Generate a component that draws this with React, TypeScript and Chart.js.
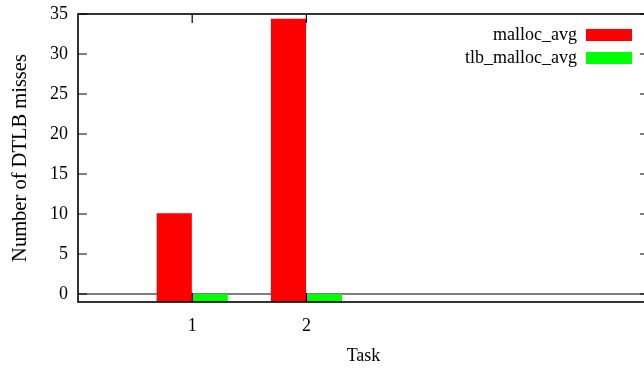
import React, { useEffect, useRef } from 'react';
import { Chart, registerables } from 'chart.js';

Chart.register(...registerables);

const TASKS = [1, 2];
const MALLOC_AVG = [10.1, 34.4];
const TLB_MALLOC_AVG = [0, 0];
const SERIES_NAMES = ['malloc_avg', 'tlb_malloc_avg'];
const SERIES_COLORS = ['#ff0000', '#00ff00'];
const Y_TICKS = [0, 5, 10, 15, 20, 25, 30, 35];
const X_TICKS = [1, 2];
const X_MIN = 0;
const X_MAX = 5;
const Y_MIN = -1;
const Y_MAX = 35;
const BAR_BASE = -1;
const Y_TITLE = 'Number of DTLB misses';
const X_TITLE = 'Task';

const FONT = '"Liberation Serif", "Times New Roman", serif';

const gnuplotFrame = {
  id: 'gnuplotFrame',
  beforeDatasetsDraw(chart: any) {
    const { ctx, chartArea: a, scales } = chart;
    const y0 = scales.y.getPixelForValue(0);
    ctx.save();
    ctx.strokeStyle = '#000';
    ctx.lineWidth = 1.2;
    ctx.beginPath();
    ctx.moveTo(a.left, y0);
    ctx.lineTo(a.right, y0);
    ctx.stroke();
    ctx.restore();
  },
  afterDatasetsDraw(chart: any) {
    const { ctx, chartArea: a, scales } = chart;
    const tick = 9;
    ctx.save();
    ctx.strokeStyle = '#000';
    ctx.lineWidth = 1.2;
    ctx.beginPath();
    Y_TICKS.forEach((v) => {
      const y = scales.y.getPixelForValue(v);
      ctx.moveTo(a.left, y);
      ctx.lineTo(a.left + tick, y);
      ctx.moveTo(a.right, y);
      ctx.lineTo(a.right - tick, y);
    });
    X_TICKS.forEach((v) => {
      const x = scales.x.getPixelForValue(v);
      ctx.moveTo(x, a.bottom);
      ctx.lineTo(x, a.bottom - tick);
      ctx.moveTo(x, a.top);
      ctx.lineTo(x, a.top + tick);
    });
    ctx.stroke();
    ctx.lineWidth = 1.6;
    ctx.strokeRect(a.left, a.top, a.right - a.left, a.bottom - a.top);

    // legend (key) top-right, sample to the right of the text
    ctx.font = '18px ' + FONT;
    ctx.textAlign = 'right';
    ctx.textBaseline = 'middle';
    chart.data.datasets.forEach((ds: any, i: number) => {
      const cy = a.top + 21 + i * 23;
      ctx.fillStyle = '#000';
      ctx.fillText(ds.label, a.right - 72, cy);
      ctx.fillStyle = ds.backgroundColor;
      ctx.fillRect(a.right - 63, cy - 6, 46, 12);
    });
    ctx.restore();
  },
};

export default function App() {
  const canvasRef = useRef<HTMLCanvasElement>(null);

  useEffect(() => {
    if (!canvasRef.current) return;
    const seriesValues = [MALLOC_AVG, TLB_MALLOC_AVG];
    const chart = new Chart(canvasRef.current, {
      type: 'bar',
      data: {
        datasets: SERIES_NAMES.map((name, i) => ({
          label: name,
          data: TASKS.map((t, j) => ({ x: t, y: seriesValues[i][j] })),
          backgroundColor: SERIES_COLORS[i],
          borderWidth: 0,
          base: BAR_BASE,
          categoryPercentage: 0.63,
          barPercentage: 0.98,
        })),
      },
      options: {
        animation: false,
        responsive: true,
        maintainAspectRatio: false,
        layout: { padding: { left: 0, top: 14, right: 3, bottom: 0 } },
        plugins: {
          legend: { display: false },
          tooltip: { enabled: false },
        },
        scales: {
          x: {
            type: 'linear',
            min: X_MIN,
            max: X_MAX,
            offset: false,
            grid: { display: false, drawTicks: false, offset: false },
            border: { display: false },
            afterBuildTicks: (s: any) => {
              s.ticks = X_TICKS.map((v) => ({ value: v }));
            },
            afterFit: (s: any) => {
              s.height = 69;
              s.paddingLeft = 0;
              s.paddingRight = 0;
            },
            ticks: {
              color: '#000',
              padding: 13,
              maxRotation: 0,
              font: { family: FONT, size: 18 },
            },
            title: {
              display: true,
              text: X_TITLE,
              color: '#000',
              font: { family: FONT, size: 18 },
              padding: { top: 0, bottom: 4 },
            },
          },
          y: {
            type: 'linear',
            min: Y_MIN,
            max: Y_MAX,
            grid: { display: false, drawTicks: false },
            border: { display: false },
            afterBuildTicks: (s: any) => {
              s.ticks = Y_TICKS.map((v) => ({ value: v }));
            },
            afterFit: (s: any) => {
              s.width = 78;
              s.paddingTop = 0;
              s.paddingBottom = 0;
            },
            ticks: {
              color: '#000',
              padding: 10,
              font: { family: FONT, size: 18 },
            },
            title: {
              display: true,
              text: Y_TITLE,
              color: '#000',
              font: { family: FONT, size: 20.5 },
              padding: { top: 8, bottom: 0 },
            },
          },
        },
      },
      plugins: [gnuplotFrame],
    } as any);
    return () => chart.destroy();
  }, []);

  return (
    <div style={{ position: 'fixed', left: 0, top: 0, width: 644, height: 371, overflow: 'hidden', background: '#fff' }}>
      <div style={{ position: 'relative', width: 652, height: 371 }}>
        <canvas ref={canvasRef} />
      </div>
    </div>
  );
}
